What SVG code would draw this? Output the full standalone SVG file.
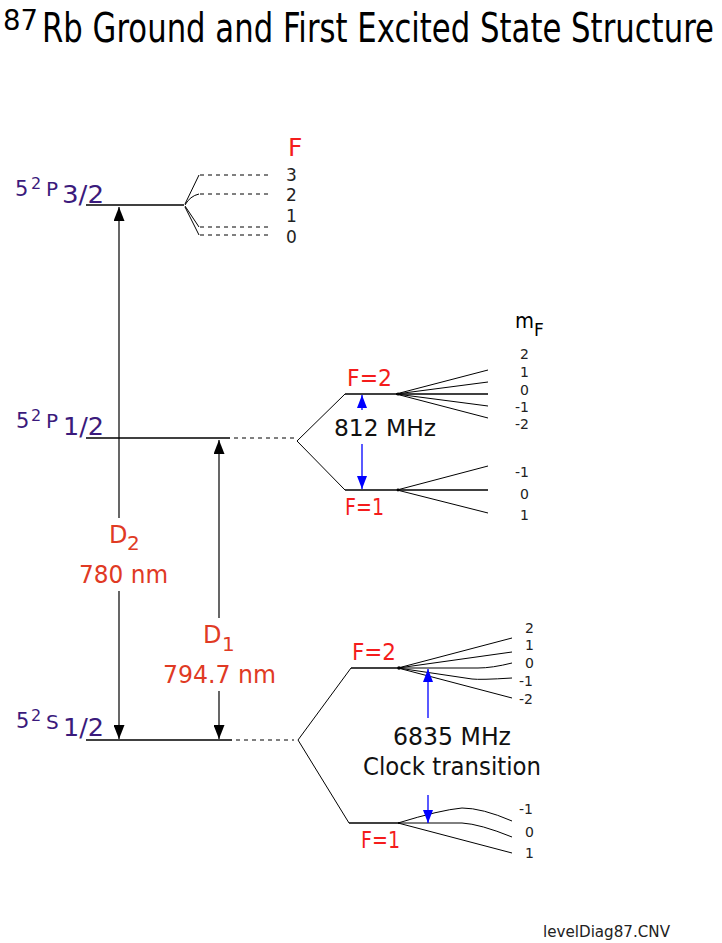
<svg xmlns="http://www.w3.org/2000/svg" width="722" height="943" viewBox="0 0 722 943">
<defs>
<style>
text{font-family:"DejaVu Sans","Liberation Sans",sans-serif;}
.lv{stroke:#000;stroke-width:1.3;fill:none}
.th{stroke:#000;stroke-width:1;fill:none}
.ds{stroke:#000;stroke-width:1;fill:none;stroke-dasharray:4 4}
.pu{fill:#3b1a7c}
.rd{fill:#f41c1c;font-size:23px}
.dl{fill:#e03a24}
.mf{fill:#222;font-size:14px}
.fn{fill:#222;font-size:17px}
.bk{fill:#111}
.ar{stroke:#000;stroke-width:1.2}
.bl{stroke:#0000ff;stroke-width:1.3}
</style>
<marker id="ah" viewBox="0 0 14 11" refX="14" refY="5.5" markerWidth="14" markerHeight="11" markerUnits="userSpaceOnUse" orient="auto"><path d="M0,0 L14,5.5 L0,11 Z" fill="#000"/></marker>
<marker id="bh" viewBox="0 0 13 10" refX="13" refY="5" markerWidth="13" markerHeight="10" markerUnits="userSpaceOnUse" orient="auto"><path d="M0,0 L13,5 L0,10 Z" fill="#0000ff"/></marker>
</defs>
<rect width="722" height="943" fill="#fff"/>

<g id="title">
<text x="3" y="30" font-size="28" textLength="35" lengthAdjust="spacingAndGlyphs">87</text>
<text x="42" y="42" font-size="40" textLength="672" lengthAdjust="spacingAndGlyphs">Rb Ground and First Excited State Structure</text>
</g>

<g id="P32">
<line class="lv" x1="86" y1="205" x2="184" y2="205"/>
<text class="pu" x="15" y="196" font-size="21">5</text>
<text class="pu" x="31" y="189" font-size="16">2</text>
<text class="pu" x="46" y="196" font-size="20">P</text>
<text class="pu" x="62" y="203" font-size="24" textLength="42" lengthAdjust="spacingAndGlyphs">3/2</text>
<path class="th" d="M185,204 L199,175 M185,205 Q190,196 199,194 M185,206 L199,227 M185,207 L199,235"/>
<path class="ds" d="M200,175 H272 M200,194 H272 M200,227 H272 M200,235 H272"/>
<text x="288" y="156" font-size="25" fill="#f41c1c">F</text>
<text class="fn" x="286" y="181">3</text>
<text class="fn" x="286" y="201">2</text>
<text class="fn" x="286" y="222">1</text>
<text class="fn" x="286" y="243">0</text>
</g>

<g id="P12">
<line class="lv" x1="86" y1="438" x2="230" y2="438"/>
<line class="ds" x1="234" y1="438" x2="294" y2="438"/>
<text class="pu" x="16" y="428" font-size="21">5</text>
<text class="pu" x="31" y="421" font-size="16">2</text>
<text class="pu" x="46" y="428" font-size="20">P</text>
<text class="pu" x="63" y="435" font-size="24" textLength="41" lengthAdjust="spacingAndGlyphs">1/2</text>
<path class="th" d="M345,394 L297,441 L345,490"/>
</g>

<g id="P12F2">
<line class="lv" x1="345" y1="394" x2="488" y2="394"/>
<path class="th" d="M396,394 L488,370 M396,394 L488,382 M396,394 L488,406 M396,394 L488,418"/>
<circle cx="398" cy="394" r="1.6" fill="#000"/>
<text class="rd" x="347" y="386" textLength="45" lengthAdjust="spacingAndGlyphs">F=2</text>
<text x="515" y="328" font-size="21" textLength="19" lengthAdjust="spacingAndGlyphs">m</text>
<text x="534" y="336" font-size="17">F</text>
<text class="mf" x="520" y="359">2</text>
<text class="mf" x="520" y="377">1</text>
<text class="mf" x="520" y="395">0</text>
<text class="mf" x="515" y="412">-1</text>
<text class="mf" x="515" y="429">-2</text>
</g>

<g id="P12F1">
<line class="lv" x1="345" y1="490" x2="488" y2="490"/>
<path class="th" d="M397,490 L488,466 M397,490 L488,513"/>
<circle cx="398" cy="490" r="1.4" fill="#000"/>
<text class="rd" x="345" y="515" textLength="39" lengthAdjust="spacingAndGlyphs">F=1</text>
<text class="mf" x="515" y="477">-1</text>
<text class="mf" x="520" y="499">0</text>
<text class="mf" x="520" y="520">1</text>
</g>

<g id="S12">
<line class="lv" x1="86" y1="740" x2="232" y2="740"/>
<line class="ds" x1="236" y1="740" x2="294" y2="740"/>
<text class="pu" x="16" y="728" font-size="21">5</text>
<text class="pu" x="31" y="721" font-size="16">2</text>
<text class="pu" x="46" y="729" font-size="20">S</text>
<text class="pu" x="63" y="736" font-size="24" textLength="41" lengthAdjust="spacingAndGlyphs">1/2</text>
<path class="th" d="M351,668 L298,740 L349,823"/>
</g>

<g id="S12F2">
<line class="lv" x1="351" y1="668" x2="400" y2="668"/>
<path class="th" d="M398,668 L512,638 M398,668 L512,652 M398,668 L478,668 Q492,668 512,663 M398,668 L472,679 Q480,680 512,678 M398,668 L512,698"/>
<circle cx="399" cy="668" r="1.8" fill="#000"/>
<text class="rd" x="352" y="660" textLength="44" lengthAdjust="spacingAndGlyphs">F=2</text>
<text class="mf" x="525" y="633">2</text>
<text class="mf" x="525" y="650">1</text>
<text class="mf" x="525" y="668">0</text>
<text class="mf" x="519" y="686">-1</text>
<text class="mf" x="519" y="704">-2</text>
</g>

<g id="S12F1">
<line class="lv" x1="349" y1="823" x2="400" y2="823"/>
<path class="th" d="M398,823 Q440,810 462,808 Q482,808 512,821 M398,823 L462,823 Q480,824 512,837 M398,823 L512,853"/>
<text class="rd" x="361" y="848" textLength="39" lengthAdjust="spacingAndGlyphs">F=1</text>
<text class="mf" x="519" y="814">-1</text>
<text class="mf" x="525" y="837">0</text>
<text class="mf" x="525" y="858">1</text>
</g>

<g id="labels">
<text class="dl" x="109" y="543" font-size="24">D</text>
<text class="dl" x="127" y="550" font-size="20">2</text>
<text class="dl" x="79" y="583" font-size="24" textLength="89" lengthAdjust="spacingAndGlyphs">780 nm</text>
<text class="dl" x="203" y="643" font-size="24">D</text>
<text class="dl" x="222" y="651" font-size="20">1</text>
<text class="dl" x="163" y="683" font-size="24" textLength="113" lengthAdjust="spacingAndGlyphs">794.7 nm</text>
<text class="bk" x="334" y="436" font-size="23" textLength="102" lengthAdjust="spacingAndGlyphs">812 MHz</text>
<text class="bk" x="393" y="745" font-size="24" textLength="118" lengthAdjust="spacingAndGlyphs">6835 MHz</text>
<text class="bk" x="363" y="775" font-size="24" textLength="178" lengthAdjust="spacingAndGlyphs">Clock transition</text>
<text x="543" y="937" font-size="16" fill="#222" textLength="127" lengthAdjust="spacingAndGlyphs">levelDiag87.CNV</text>
</g>

<g id="connectors">
<line class="ar" x1="119" y1="518" x2="119" y2="207" marker-end="url(#ah)"/>
<line class="ar" x1="119" y1="591" x2="119" y2="739" marker-end="url(#ah)"/>
<line class="ar" x1="219" y1="618" x2="219" y2="440" marker-end="url(#ah)"/>
<line class="ar" x1="219" y1="691" x2="219" y2="739" marker-end="url(#ah)"/>
<line class="bl" x1="362" y1="410" x2="362" y2="395" marker-end="url(#bh)"/>
<line class="bl" x1="362" y1="444" x2="362" y2="489" marker-end="url(#bh)"/>
<line class="bl" x1="428" y1="718" x2="428" y2="669" marker-end="url(#bh)"/>
<line class="bl" x1="428" y1="795" x2="428" y2="823" marker-end="url(#bh)"/>
</g>
</svg>
